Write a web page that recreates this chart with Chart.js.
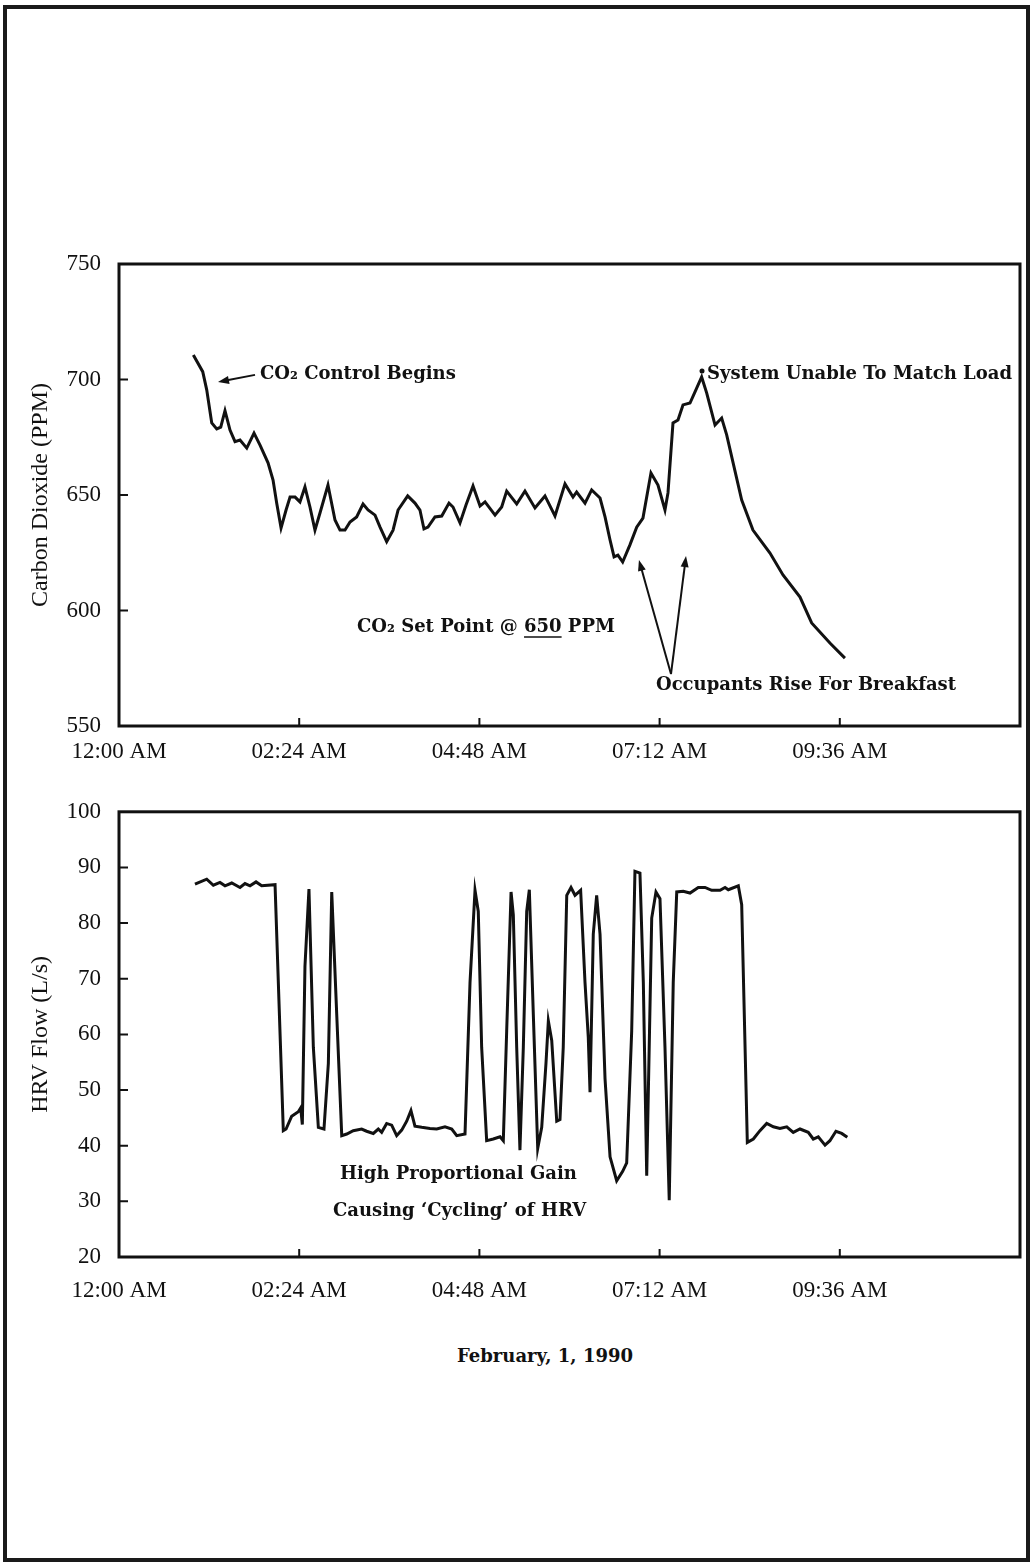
<!DOCTYPE html>
<html>
<head>
<meta charset="utf-8">
<script src="https://cdn.jsdelivr.net/npm/chart.js@4.4.1/dist/chart.umd.min.js"></script>
<style>
  html, body { margin: 0; padding: 0; background: #fff; }
  body { width: 1035px; height: 1566px; position: relative; overflow: hidden; }
  #frame { position: absolute; left: 3px; top: 5px; width: 1019px; height: 1549px; border: 4px solid #1a1a1a; }
  canvas { position: absolute; left: 0; }
  #co2 { top: 230px; }
  #hrv { top: 780px; }
  #date { position: absolute; left: 0; width: 1090px; top: 1345px; line-height: 24px; text-align: center;
          font: bold 18px "DejaVu Serif"; color: #111; }
</style>
</head>
<body>
<div id="frame"></div>
<canvas id="co2" width="1035" height="550"></canvas>
<canvas id="hrv" width="1035" height="560"></canvas>
<div id="date">February, 1, 1990</div>

<script>
//---------dados (tempo em minutos desde 12:00 AM)

const timeLabels = ['12:00 AM', '02:24 AM', '04:48 AM', '07:12 AM', '09:36 AM', ''];

const co2Time = [59.4, 66.9, 70.1, 74.1, 78.1, 81.3, 84.7, 88.7, 92.7, 96.7,
  102.1, 107.9, 112.7, 119.1, 123.1, 126.0, 129.5, 133.5, 136.7, 140.7,
  144.6, 148.6, 152.6, 156.6, 160.6, 167.0, 172.6, 176.6, 180.6, 184.6,
  189.9, 195.0, 199.0, 204.6, 208.6, 213.9, 219.0, 223.0, 230.7, 236.5,
  240.5, 243.7, 246.9, 252.5, 257.9, 263.7, 266.9, 272.5, 277.3, 282.9,
  288.5, 292.5, 300.5, 305.8, 309.8, 317.8, 324.4, 332.4, 340.4, 348.4,
  356.4, 362.8, 365.7, 372.4, 377.7, 384.4, 388.4, 392.4, 395.6, 398.7,
  402.5, 408.3, 413.7, 418.7, 425.1, 430.7, 436.3, 438.7, 442.7, 446.7,
  450.7, 456.3, 460.3, 465.6, 469.6, 476.3, 481.6, 485.6, 497.6, 506.6,
  520.2, 530.6, 544.2, 553.5, 568.1, 580.1];

const co2Ppm = [710.6, 703.4, 695.5, 681.2, 678.6, 679.4, 686.5, 678.1, 673.1, 673.8,
  670.3, 676.8, 671.6, 663.9, 656.5, 646.5, 635.7, 643.5, 649.1, 649.1,
  647.0, 653.5, 644.8, 634.8, 642.2, 654.3, 639.2, 634.8, 634.8, 638.3,
  640.5, 646.1, 643.5, 641.3, 636.1, 629.8, 634.8, 643.5, 649.6, 646.5,
  643.5, 635.3, 636.1, 640.5, 640.9, 646.5, 644.8, 637.9, 645.7, 653.9,
  645.2, 647.0, 641.3, 644.8, 651.7, 646.1, 651.7, 644.4, 649.6, 640.9,
  654.8, 649.1, 651.3, 646.5, 652.2, 648.7, 640.5, 630.5, 623.2, 624.0,
  621.0, 628.4, 636.1, 640.0, 659.5, 654.3, 643.5, 650.9, 681.2, 682.5,
  689.0, 689.8, 694.6, 701.1, 694.2, 680.3, 683.3, 676.0, 647.8, 634.8,
  624.9, 615.4, 605.8, 594.6, 585.9, 579.4];

const hrvTime = [60.7, 70.1, 75.4, 80.7, 84.7, 90.1, 96.7, 100.7, 104.7, 109.5,
  114.0, 124.7, 131.3, 133.5, 138.0, 143.3, 145.2, 146.5, 148.6, 151.8,
  155.3, 159.3, 163.8, 167.3, 170.0, 174.0, 178.0, 182.0, 187.2, 193.9,
  197.9, 203.2, 207.2, 209.9, 213.9, 217.9, 221.9, 225.9, 229.9, 233.3,
  236.5, 241.9, 248.5, 253.9, 260.5, 265.9, 269.9, 276.5, 280.5, 284.5,
  287.1, 289.8, 293.8, 299.1, 304.5, 307.1, 309.8, 313.3, 315.1, 317.8,
  320.4, 323.1, 325.8, 327.9, 331.1, 334.6, 337.8, 341.2, 343.1, 345.8,
  349.8, 352.4, 355.0, 357.8, 361.2, 364.4, 368.9, 372.4, 375.0, 376.4,
  379.0, 381.7, 384.4, 388.4, 392.4, 397.7, 402.5, 405.7, 409.7, 412.3,
  416.3, 419.0, 421.7, 425.7, 429.1, 432.3, 436.3, 439.7, 442.9, 445.7,
  450.9, 456.3, 462.9, 468.3, 473.6, 480.3, 484.3, 486.9, 494.9, 497.6,
  502.1, 506.9, 512.2, 517.6, 522.9, 528.2, 533.6, 538.8, 544.2, 550.8,
  554.8, 558.8, 564.2, 568.1, 572.9, 577.5, 582.0];

const hrvFlow = [87.0, 87.9, 86.8, 87.3, 86.7, 87.2, 86.4, 87.1, 86.7, 87.4,
  86.7, 86.9, 42.7, 43.0, 45.3, 46.1, 46.8, 43.8, 72.2, 86.1,
  57.7, 43.3, 43.0, 54.8, 85.6, 63.5, 41.8, 42.1, 42.7, 43.0,
  42.6, 42.2, 43.0, 42.4, 44.0, 43.7, 41.8, 42.8, 44.4, 46.3,
  43.5, 43.3, 43.1, 43.0, 43.4, 43.0, 41.8, 42.1, 69.3, 85.9,
  82.1, 57.7, 40.9, 41.2, 41.6, 40.9, 60.6, 85.6, 81.5, 57.7,
  39.2, 57.7, 82.1, 86.0, 63.5, 39.5, 43.3, 54.8, 62.4, 58.9,
  44.4, 44.7, 57.7, 85.0, 86.4, 85.0, 85.9, 69.3, 59.5, 49.6,
  78.0, 85.0, 78.0, 52.0, 38.0, 33.7, 35.4, 36.9, 60.6, 89.3,
  89.0, 69.3, 34.6, 80.9, 85.6, 84.4, 57.7, 30.2, 69.3, 85.6,
  85.7, 85.4, 86.4, 86.4, 85.9, 85.9, 86.4, 86.0, 86.7, 83.3,
  40.6, 41.2, 42.7, 44.0, 43.4, 43.1, 43.4, 42.4, 43.0, 42.4,
  41.2, 41.6, 40.1, 40.9, 42.6, 42.2, 41.5];

//---------plugins

const INK = '#111';

// moldura do grafico + marcas de escala para dentro
const moldura = {
  id: 'moldura',
  afterDraw(chart) {
    const { ctx, chartArea: a, scales: { x, y } } = chart;
    ctx.save();
    ctx.strokeStyle = INK;
    ctx.lineWidth = 3;
    ctx.strokeRect(a.left, a.top, a.right - a.left, a.bottom - a.top);
    ctx.lineWidth = 2;
    ctx.beginPath();
    y.ticks.forEach(t => {
      if (t.value === y.min || t.value === y.max) return;
      const py = y.getPixelForValue(t.value);
      ctx.moveTo(a.left, py);
      ctx.lineTo(a.left + 9, py);
    });
    x.ticks.forEach(t => {
      if (t.value === x.min || t.value === x.max) return;
      const px = x.getPixelForValue(t.value);
      ctx.moveTo(px, a.bottom);
      ctx.lineTo(px, a.bottom - 8);
    });
    ctx.stroke();
    ctx.restore();
  }
};

function seta(ctx, x1, y1, x2, y2) {
  const ang = Math.atan2(y2 - y1, x2 - x1);
  const L = 11, W = 4;
  ctx.beginPath();
  ctx.moveTo(x1, y1);
  ctx.lineTo(x2 - Math.cos(ang) * L * 0.6, y2 - Math.sin(ang) * L * 0.6);
  ctx.stroke();
  ctx.beginPath();
  ctx.moveTo(x2, y2);
  ctx.lineTo(x2 - Math.cos(ang) * L + Math.sin(ang) * W, y2 - Math.sin(ang) * L - Math.cos(ang) * W);
  ctx.lineTo(x2 - Math.cos(ang) * L - Math.sin(ang) * W, y2 - Math.sin(ang) * L + Math.cos(ang) * W);
  ctx.closePath();
  ctx.fill();
}

// textos e setas em coordenadas de dados
function notas(textos, setas, pontos) {
  return {
    id: 'notas',
    afterDatasetsDraw(chart) {
      const { ctx, scales: { x, y } } = chart;
      ctx.save();
      ctx.fillStyle = INK;
      ctx.strokeStyle = INK;
      ctx.font = 'bold 18px "DejaVu Serif"';
      ctx.textBaseline = 'middle';
      ctx.textAlign = 'left';
      textos.forEach(n => {
        const px = x.getPixelForValue(n.x), py = y.getPixelForValue(n.y);
        ctx.fillText(n.text, px, py);
        if (n.underline) {
          const pre = ctx.measureText(n.text.slice(0, n.underline[0])).width;
          const w = ctx.measureText(n.text.slice(n.underline[0], n.underline[1])).width;
          ctx.lineWidth = 1.5;
          ctx.beginPath();
          ctx.moveTo(px + pre, py + 10);
          ctx.lineTo(px + pre + w, py + 10);
          ctx.stroke();
        }
      });
      ctx.lineWidth = 2;
      setas.forEach(s => {
        seta(ctx, x.getPixelForValue(s.from[0]), y.getPixelForValue(s.from[1]),
                  x.getPixelForValue(s.to[0]), y.getPixelForValue(s.to[1]));
      });
      pontos.forEach(p => {
        ctx.beginPath();
        ctx.arc(x.getPixelForValue(p[0]), y.getPixelForValue(p[1]), 2.5, 0, Math.PI * 2);
        ctx.fill();
      });
      ctx.restore();
    }
  };
}

//---------configuracao comum

function opcoes(yMin, yMax, yStep, titulo, padTop, xAltura, xDesloc) {
  return {
    responsive: false,
    animation: false,
    layout: { padding: { left: 0, right: 15, top: padTop, bottom: 0 } },
    plugins: { legend: { display: false }, tooltip: { enabled: false } },
    scales: {
      x: {
        type: 'linear',
        min: 0,
        max: 720,
        // marcas nao desenhadas, so reservam espaco acima dos rotulos
        grid: { display: false, drawTicks: true, tickLength: xDesloc },
        border: { display: false },
        afterFit: s => { s.height = xAltura; },
        ticks: {
          stepSize: 144,
          autoSkip: false,
          maxRotation: 0,
          padding: 10,
          color: INK,
          font: { family: 'Liberation Serif', size: 23 },
          callback: (v, i) => timeLabels[i]
        }
      },
      y: {
        min: yMin,
        max: yMax,
        grid: { display: false, drawTicks: false },
        border: { display: false },
        afterFit: s => { s.width = 119; },
        ticks: {
          stepSize: yStep,
          padding: 18,
          color: INK,
          font: { family: 'Liberation Serif', size: 23 }
        },
        title: {
          display: true,
          text: titulo,
          color: INK,
          font: { family: 'Liberation Serif', size: 24 },
          padding: { top: 26, bottom: 0 }
        }
      }
    }
  };
}

function serie(tempo, valores) {
  return {
    datasets: [{
      data: tempo.map((t, i) => ({ x: t, y: valores[i] })),
      borderColor: INK,
      borderWidth: 3,
      pointRadius: 0,
      tension: 0,
      fill: false
    }]
  };
}

//---------------------------grafico 1 (CO2)

new Chart(document.getElementById('co2'), {
  type: 'line',
  data: serie(co2Time, co2Ppm),
  options: opcoes(550, 750, 50, 'Carbon Dioxide (PPM)', 34, 54, 2),
  plugins: [moldura, notas(
    [
      { text: 'CO₂ Control Begins', x: 112.7, y: 702.4 },
      { text: 'System Unable To Match Load', x: 469.9, y: 702.4 },
      { text: 'CO₂ Set Point @ 650 PPM', x: 190.2, y: 592.9, underline: [16, 19] },
      { text: 'Occupants Rise For Breakfast', x: 429.1, y: 567.7 }
    ],
    [
      { from: [108.7, 702.0], to: [79.1, 698.9] },
      { from: [441.1, 572.5], to: [415.5, 621.9] },
      { from: [441.1, 572.5], to: [453.1, 623.6] }
    ],
    [[465.9, 703.7]]
  )]
});

//---------------------------grafico 2 (HRV)

new Chart(document.getElementById('hrv'), {
  type: 'line',
  data: serie(hrvTime, hrvFlow),
  options: opcoes(20, 100, 10, 'HRV Flow (L/s)', 17, 83, 10),
  plugins: [moldura, notas(
    [
      { text: 'High Proportional Gain', x: 176.6, y: 34.8 },
      { text: 'Causing ‘Cycling’ of HRV', x: 171.0, y: 28.2 }
    ],
    [],
    []
  )]
});
</script>
</body>
</html>
